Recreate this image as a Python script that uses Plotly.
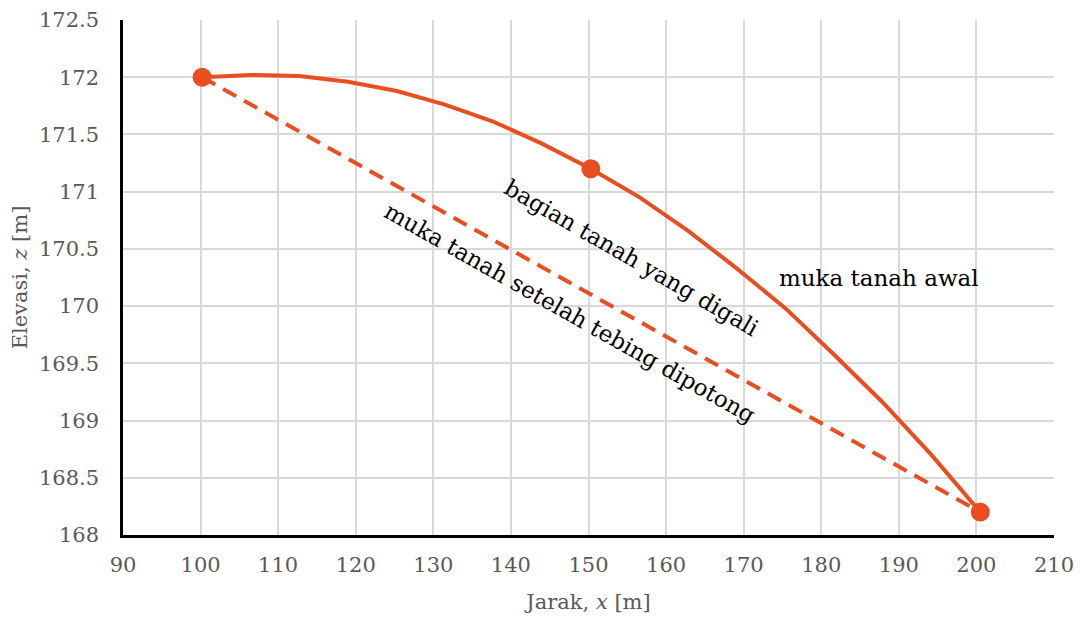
import plotly.graph_objects as go

# Data
curve_x = [100.2, 106.5, 112.7, 119.0, 125.3, 131.5, 137.8, 144.0, 150.3,
           156.6, 162.8, 169.1, 175.4, 181.6, 187.9, 194.2, 200.5]
curve_z = [172.00, 172.02, 172.01, 171.96, 171.88, 171.76, 171.61, 171.42, 171.20,
           170.95, 170.66, 170.33, 169.98, 169.58, 169.16, 168.70, 168.20]
cut_x = [100.2, 200.5]
cut_z = [172.00, 168.20]
pts_x = [100.2, 150.3, 200.5]
pts_z = [172.00, 171.20, 168.20]

x_ticks = [90, 100, 110, 120, 130, 140, 150, 160, 170, 180, 190, 200, 210]
y_ticks = [168, 168.5, 169, 169.5, 170, 170.5, 171, 171.5, 172, 172.5]

labels = [
    {"text": "bagian tanah yang digali", "x": 155.6, "y": 170.42, "angle": 30},
    {"text": "muka tanah setelah tebing dipotong", "x": 147.6, "y": 169.94, "angle": 29.5},
    {"text": "muka tanah awal", "x": 187.4, "y": 170.25, "angle": 0},
]

COLOR = "#E84E1F"
SERIF = "DejaVu Serif"

fig = go.Figure()
fig.add_trace(go.Scatter(x=curve_x, y=curve_z, mode="lines",
                         line=dict(color=COLOR, width=4),
                         showlegend=False, hoverinfo="skip"))
fig.add_trace(go.Scatter(x=cut_x, y=cut_z, mode="lines",
                         line=dict(color=COLOR, width=4, dash="15px,9px"),
                         showlegend=False, hoverinfo="skip"))
fig.add_trace(go.Scatter(x=pts_x, y=pts_z, mode="markers",
                         marker=dict(color=COLOR, size=19),
                         showlegend=False))

for lab in labels:
    fig.add_annotation(x=lab["x"], y=lab["y"], text=lab["text"], showarrow=False,
                       textangle=lab["angle"], xref="x", yref="y",
                       font=dict(family=SERIF, size=23, color="#000000"))

axis_common = dict(showgrid=True, gridcolor="#d9d9d9", gridwidth=1.5,
                   zeroline=False, showline=True, linecolor="#000000", linewidth=2.5,
                   ticks="", automargin=False,
                   tickfont=dict(family=SERIF, size=21, color="#595959"),
                   title_font=dict(family=SERIF, size=21, color="#595959"))

fig.update_xaxes(range=[90, 210], tickvals=x_ticks,
                 ticktext=[str(v) for v in x_ticks],
                 title_text="Jarak, <i>x</i> [m]", title_standoff=19,
                 ticklabelstandoff=9, **axis_common)
fig.update_yaxes(range=[168, 172.5], tickvals=y_ticks,
                 ticktext=[f"{v:g}" for v in y_ticks],
                 title_text="Elevasi, <i>z</i> [m]", title_standoff=6,
                 ticklabelstandoff=17, **axis_common)

fig.update_layout(width=1081, height=618,
                  margin=dict(l=123, r=27, t=20, b=83),
                  plot_bgcolor="white", paper_bgcolor="white")

html = fig.to_html(full_html=True, config={"displayModeBar": False})
html = html.replace("<head>", "<head><style>html,body{margin:0;padding:0;overflow:hidden;}</style>", 1)
with open("out.html", "w", encoding="utf-8") as f:
    f.write(html)
